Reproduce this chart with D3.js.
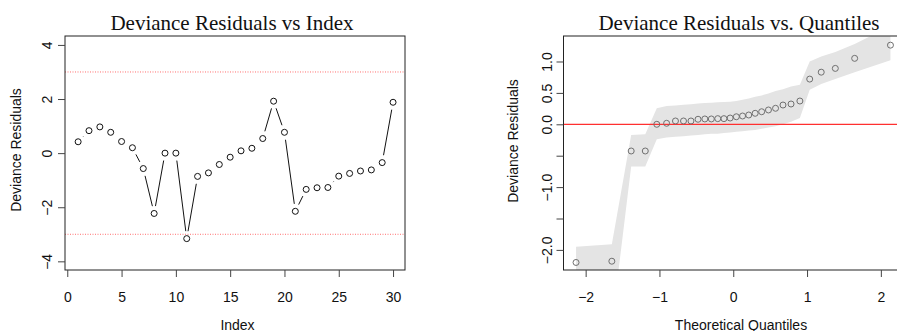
<!DOCTYPE html>
<html>
<head>
<meta charset="utf-8">
<script src="https://cdn.jsdelivr.net/npm/d3@7"></script>
<style>
  body { margin: 0; background: #fff; }
  svg { display: block; }
</style>
</head>
<body>
<div id="chart"></div>
<script>
'use strict'

// left panel: deviance residuals by observation index
let obsIndex = [1, 2, 3, 4, 5, 6, 7, 8, 9, 10, 11, 12, 13, 14, 15,
                16, 17, 18, 19, 20, 21, 22, 23, 24, 25, 26, 27, 28, 29, 30]
let devResid = [0.42, 0.83, 0.97, 0.77, 0.43, 0.20, -0.57, -2.23, 0.0, 0.0,
                -3.16, -0.86, -0.73, -0.42, -0.15, 0.085, 0.18, 0.54, 1.92, 0.77,
                -2.15, -1.34, -1.28, -1.27, -0.85, -0.75, -0.66, -0.62, -0.35, 1.88]
let cutoffs = [3, -3]

// right panel: sorted residuals vs normal quantiles + envelope
let theoQuant = [-2.13, -1.645, -1.383, -1.192, -1.036, -0.903, -0.783, -0.674, -0.573, -0.477,
                 -0.385, -0.297, -0.210, -0.126, -0.042, 0.042, 0.126, 0.210, 0.297, 0.385,
                 0.477, 0.573, 0.674, 0.783, 0.903, 1.036, 1.192, 1.383, 1.645, 2.13]
let sortedResid = [-2.20, -2.18, -0.425, -0.425, 0.0, 0.016, 0.053, 0.053, 0.053, 0.08,
                   0.085, 0.085, 0.09, 0.09, 0.10, 0.12, 0.132, 0.148, 0.175, 0.20,
                   0.228, 0.255, 0.307, 0.323, 0.371, 0.72, 0.83, 0.89, 1.05, 1.26]
let bandUpper = [-1.95, -1.91, -0.17, -0.16, 0.255, 0.29, 0.30, 0.31, 0.32, 0.33,
                 0.34, 0.345, 0.35, 0.355, 0.36, 0.37, 0.39, 0.41, 0.44, 0.46,
                 0.49, 0.53, 0.56, 0.60, 0.63, 1.00, 1.08, 1.15, 1.28, 1.56]
let bandLower = [-3.45, -3.2, -0.67, -0.67, -0.24, -0.21, -0.20, -0.19, -0.18, -0.17,
                 -0.16, -0.15, -0.15, -0.14, -0.13, -0.12, -0.11, -0.10, -0.09, -0.07,
                 -0.05, -0.03, 0.0, 0.04, 0.10, 0.55, 0.64, 0.72, 0.83, 1.02]
let refLine = 0

// ticks
let xTicksL = [0, 5, 10, 15, 20, 25, 30]
let yTicksL = [-4, -2, 0, 2, 4]
let xTicksR = [-2, -1, 0, 1, 2]
let yTicksR = [-2, -1.5, -1, -0.5, 0, 0.5, 1]
let yTickTextR = ["\u22122.0", "", "\u22121.0", "", "0.0", "0.5", "1.0"]

let width = 897
let height = 331
let sans = "'Liberation Sans', Arial, Helvetica, sans-serif"
let serif = "'Liberation Serif', 'Times New Roman', serif"
let tickLen = 7
let gap = 7.5

let svg = d3.select("#chart").append("svg")
  .attr("width", width)
  .attr("height", height)

let boxL = { x0: 65, x1: 405, y0: 36, y1: 270 }
let boxR = { x0: 563.5, x1: 903, y0: 36, y1: 270 }

let xL = d3.scaleLinear().domain([-0.21, 31.1]).range([boxL.x0, boxL.x1])
let yL = d3.scaleLinear().domain([-4.32, 4.33]).range([boxL.y1, boxL.y0])
let xR = d3.scaleLinear().domain([-2.30, 2.30]).range([boxR.x0, boxR.x1])
let yR = d3.scaleLinear().domain([-2.32, 1.406]).range([boxR.y1, boxR.y0])

function minus(v) {
  return String(v).replace("-", "\u2212")
}

function drawAxes(box, x, y, xTicks, yTicks, yFmt, yLabelShift) {
  let gx = svg.append("g")
    .attr("transform", "translate(0," + box.y1 + ")")
    .call(d3.axisBottom(x).tickValues(xTicks).tickSize(tickLen).tickFormat(minus))
  gx.select(".domain").remove()
  gx.selectAll("line").attr("stroke", "#444")
  gx.selectAll("text")
    .attr("y", 32).attr("dy", 0)
    .style("font-family", sans).style("font-size", "14px").attr("fill", "#111")

  let gy = svg.append("g")
    .attr("transform", "translate(" + box.x0 + ",0)")
    .call(d3.axisLeft(y).tickValues(yTicks).tickSize(tickLen).tickFormat(yFmt))
  gy.select(".domain").remove()
  gy.selectAll("line").attr("stroke", "#444")
  gy.selectAll("text")
    .attr("x", null).attr("dy", 0)
    .attr("transform", "translate(" + yLabelShift + ",0) rotate(-90)")
    .attr("text-anchor", "middle")
    .style("font-family", sans).style("font-size", "14px").attr("fill", "#111")
}

function title(txt, cx) {
  svg.append("text")
    .attr("x", cx).attr("y", 29.5)
    .attr("text-anchor", "middle")
    .style("font-family", serif).style("font-size", "21px")
    .attr("fill", "#111")
    .text(txt)
}

function axisTitle(txt, x, y, rotate) {
  let t = svg.append("text")
    .attr("text-anchor", "middle")
    .style("font-family", sans).style("font-size", "14px")
    .attr("fill", "#111")
    .text(txt)
  if (rotate) t.attr("transform", "translate(" + x + "," + y + ") rotate(-90)")
  else t.attr("x", x).attr("y", y)
}

// ---- left panel ----
svg.append("g").selectAll("line.cut")
  .data(cutoffs)
  .enter().append("line")
  .attr("x1", boxL.x0).attr("x2", boxL.x1)
  .attr("y1", d => yL(d)).attr("y2", d => yL(d))
  .attr("stroke", "#ff7070")
  .attr("stroke-width", 1)
  .attr("stroke-dasharray", "1,1.5")

// type = "b": segments broken around each point
let pts = obsIndex.map((d, i) => [xL(d), yL(devResid[i])])
let segs = []
for (let i = 0; i < pts.length - 1; i++) {
  let dx = pts[i + 1][0] - pts[i][0]
  let dy = pts[i + 1][1] - pts[i][1]
  let len = Math.sqrt(dx * dx + dy * dy)
  if (len > 2 * gap + 0.5) {
    let ux = dx / len, uy = dy / len
    segs.push([pts[i][0] + ux * gap, pts[i][1] + uy * gap,
               pts[i + 1][0] - ux * gap, pts[i + 1][1] - uy * gap])
  }
}
svg.append("g").selectAll("line")
  .data(segs)
  .enter().append("line")
  .attr("x1", d => d[0]).attr("y1", d => d[1])
  .attr("x2", d => d[2]).attr("y2", d => d[3])
  .attr("stroke", "#111")
  .attr("stroke-width", 1)

svg.append("g").selectAll("circle")
  .data(devResid)
  .enter().append("circle")
  .attr("cx", (d, i) => xL(obsIndex[i]))
  .attr("cy", d => yL(d))
  .attr("r", 3)
  .attr("fill", "none")
  .attr("stroke", "#111")
  .attr("stroke-width", 1)

svg.append("rect")
  .attr("x", boxL.x0).attr("y", boxL.y0)
  .attr("width", boxL.x1 - boxL.x0).attr("height", boxL.y1 - boxL.y0)
  .attr("fill", "none").attr("stroke", "#222").attr("stroke-width", 1)

drawAxes(boxL, xL, yL, xTicksL, yTicksL, minus, -13)
title("Deviance Residuals vs Index", 232)
axisTitle("Index", 237.5, 329.5, false)
axisTitle("Deviance Residuals", 20.5, 150, true)

// ---- right panel ----
svg.append("clipPath").attr("id", "clipR")
  .append("rect")
  .attr("x", boxR.x0).attr("y", boxR.y0)
  .attr("width", boxR.x1 - boxR.x0).attr("height", boxR.y1 - boxR.y0)

let gR = svg.append("g").attr("clip-path", "url(#clipR)")

let band = d3.area()
  .x((d, i) => xR(theoQuant[i]))
  .y0((d, i) => yR(bandLower[i]))
  .y1((d, i) => yR(bandUpper[i]))

gR.append("path")
  .datum(theoQuant)
  .attr("d", band)
  .attr("fill", "#e4e4e4")

gR.append("line")
  .attr("x1", boxR.x0).attr("x2", boxR.x1)
  .attr("y1", yR(refLine)).attr("y2", yR(refLine))
  .attr("stroke", "#ff3030")
  .attr("stroke-width", 1.3)

gR.selectAll("circle")
  .data(sortedResid)
  .enter().append("circle")
  .attr("cx", (d, i) => xR(theoQuant[i]))
  .attr("cy", d => yR(d))
  .attr("r", 3)
  .attr("fill", "none")
  .attr("stroke", "#707070")
  .attr("stroke-width", 1)

svg.append("rect")
  .attr("x", boxR.x0).attr("y", boxR.y0)
  .attr("width", boxR.x1 - boxR.x0).attr("height", boxR.y1 - boxR.y0)
  .attr("fill", "none").attr("stroke", "#222").attr("stroke-width", 1)

drawAxes(boxR, xR, yR, xTicksR, yTicksR, (d, i) => yTickTextR[i], -12)
title("Deviance Residuals vs. Quantiles", 739)
axisTitle("Theoretical Quantiles", 741, 329.5, false)
axisTitle("Deviance Residuals", 518, 141, true)
</script>
</body>
</html>
